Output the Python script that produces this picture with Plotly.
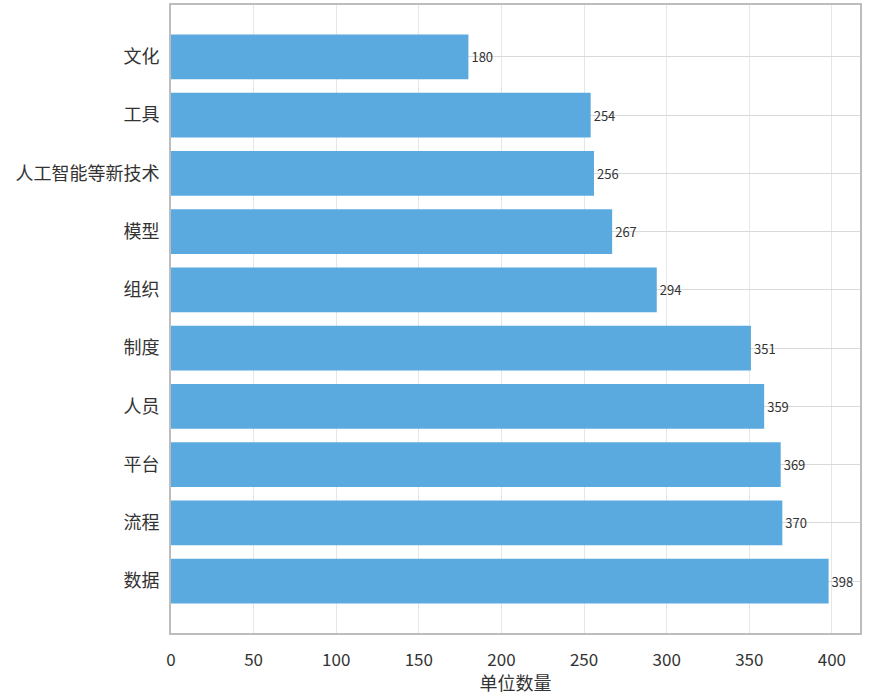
import plotly.graph_objects as go

categories = ["数据", "流程", "平台", "人员", "制度", "组织", "模型", "人工智能等新技术", "工具", "文化"]
values = [398, 370, 369, 359, 351, 294, 267, 256, 254, 180]
x_ticks = [0, 50, 100, 150, 200, 250, 300, 350, 400]

fig = go.Figure(go.Bar(
    x=values, y=categories, orientation="h",
    marker=dict(color="#5AAAE0", line=dict(width=0)),
    width=0.77,
    text=[str(v) for v in values], textposition="outside",
    textfont=dict(size=13, color="#333333"),
    cliponaxis=False,
))

fig.update_layout(
    width=869, height=695,
    margin=dict(l=171, r=9, t=5, b=62, autoexpand=False),
    plot_bgcolor="white", paper_bgcolor="white",
    font=dict(family="Noto Sans CJK SC", color="#333333"),
    showlegend=False,
)
fig.update_xaxes(
    range=[0, 417], tickvals=x_ticks, ticktext=[str(t) for t in x_ticks],
    showgrid=True, gridcolor="#E6E6E6", gridwidth=1,
    showline=True, linecolor="#BDBDBD", linewidth=2, mirror=True,
    tickfont=dict(size=17, color="#333333"),
    ticklabelstandoff=11,
    title=dict(text="单位数量", font=dict(size=18, color="#333333"), standoff=3),
    zeroline=False, ticks="", automargin=False,
)
fig.update_yaxes(
    categoryorder="array", categoryarray=categories,
    range=[-0.89, 9.89],
    showgrid=True, gridcolor="#D9D9D9", gridwidth=1,
    showline=True, linecolor="#BDBDBD", linewidth=2, mirror=True,
    tickfont=dict(size=18, color="#333333"),
    ticks="", ticklabelstandoff=6, automargin=False,
)

fig.write_html("out.html", config={"displayModeBar": False},
               post_script="document.body.style.margin='0';document.body.style.overflow='hidden';")
